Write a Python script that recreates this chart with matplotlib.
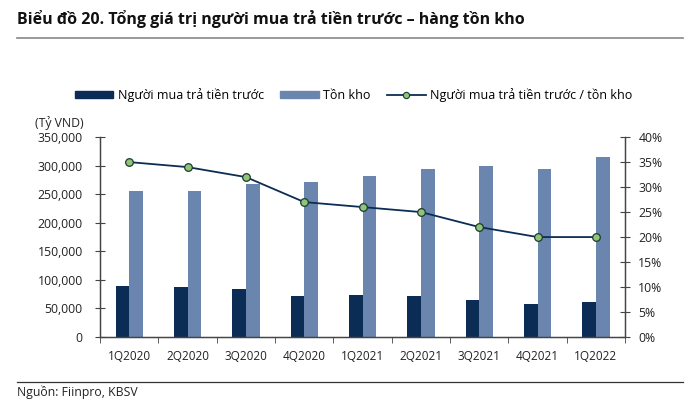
import matplotlib.pyplot as plt
from matplotlib.lines import Line2D
from matplotlib.patches import Patch
from matplotlib.ticker import FuncFormatter, FixedLocator
import numpy as np

plt.rcParams['font.family'] = ['Open Sans', 'DejaVu Sans']

quarters = ['1Q2020', '2Q2020', '3Q2020', '4Q2020', '1Q2021',
            '2Q2021', '3Q2021', '4Q2021', '1Q2022']
prepaid = [90000, 88000, 84000, 72000, 73000, 72500, 65500, 57500, 61000]
inventory = [255000, 256000, 268000, 272000, 282000, 294000, 300000, 295000, 314500]
ratio = [35.0, 34.0, 32.0, 27.0, 26.0, 25.0, 22.0, 20.0, 20.0]

dark = '#0b2d55'
light = '#6a86ae'
axis_col = '#444444'

fig = plt.figure(figsize=(7, 4.13), dpi=100)
ax = fig.add_axes([0.143, 0.184, 0.750, 0.484])
ax2 = ax.twinx()

x = np.arange(len(quarters))
w = 0.235
ax.bar(x - w / 2, prepaid, w, color=dark, zorder=2)
ax.bar(x + w / 2, inventory, w, color=light, zorder=2)

ax2.plot(x, ratio, color=dark, lw=1.3, marker='o', ms=5.5,
         mfc='#8fc47a', mec='#1c3b2a', mew=0.9, zorder=3)

ax.set_xlim(-0.5, len(quarters) - 0.5)
ax.set_ylim(0, 350000)
ax2.set_ylim(0, 40)
ax.set_yticks(range(0, 350001, 50000))
ax2.set_yticks(range(0, 41, 5))
ax.yaxis.set_major_formatter(FuncFormatter(lambda v, p: f'{int(v):,}'))
ax2.yaxis.set_major_formatter(FuncFormatter(lambda v, p: f'{int(v)}%'))

ax.set_xticks(x)
ax.set_xticklabels(quarters)
ax.tick_params(axis='x', length=0, pad=9, labelsize=8.5, colors='#222222')
ax.xaxis.set_minor_locator(FixedLocator(np.arange(-0.5, len(quarters), 1.0)))
ax.tick_params(axis='x', which='minor', length=4, color=axis_col, direction='out')
ax.tick_params(axis='y', direction='inout', length=7, color=axis_col,
               labelsize=8.8, labelcolor='#222222', pad=9)
ax2.tick_params(axis='y', direction='inout', length=7, color=axis_col,
                labelsize=8.8, labelcolor='#222222', pad=6)

for a in (ax, ax2):
    a.spines['top'].set_visible(False)
    for s in ('left', 'right', 'bottom'):
        a.spines[s].set_color(axis_col)
        a.spines[s].set_linewidth(0.9)

handles = [Patch(color=dark), Patch(color=light),
           Line2D([], [], color=dark, lw=1.3, marker='o', ms=4.5,
                  mfc='#8fc47a', mec='#1c3b2a', mew=0.8)]
labels = ['Người mua trả tiền trước', 'Tồn kho', 'Người mua trả tiền trước / tồn kho']
fig.legend(handles, labels, loc='center', bbox_to_anchor=(0.505, 0.77), ncol=3,
           frameon=False, fontsize=9, handlelength=3.1, handleheight=0.55,
           columnspacing=1.3, handletextpad=0.35)

fig.text(0.05, 0.703, '(Tỷ VND)', fontsize=8.8, color='#222222', va='center')

fig.text(0.024, 0.955, 'Biểu đồ 20. Tổng giá trị người mua trả tiền trước – hàng tồn kho',
         fontsize=11.5, fontweight='bold', color='#111111', va='center')
fig.add_artist(Line2D([0.024, 0.976], [0.908, 0.908], color='#888888', lw=1.2))
fig.add_artist(Line2D([0.024, 0.976], [0.075, 0.075], color='#333333', lw=0.9))
fig.text(0.024, 0.050, 'Nguồn: Fiinpro, KBSV', fontsize=8.8, color='#222222', va='center')

fig.savefig('out.png', dpi=100)
